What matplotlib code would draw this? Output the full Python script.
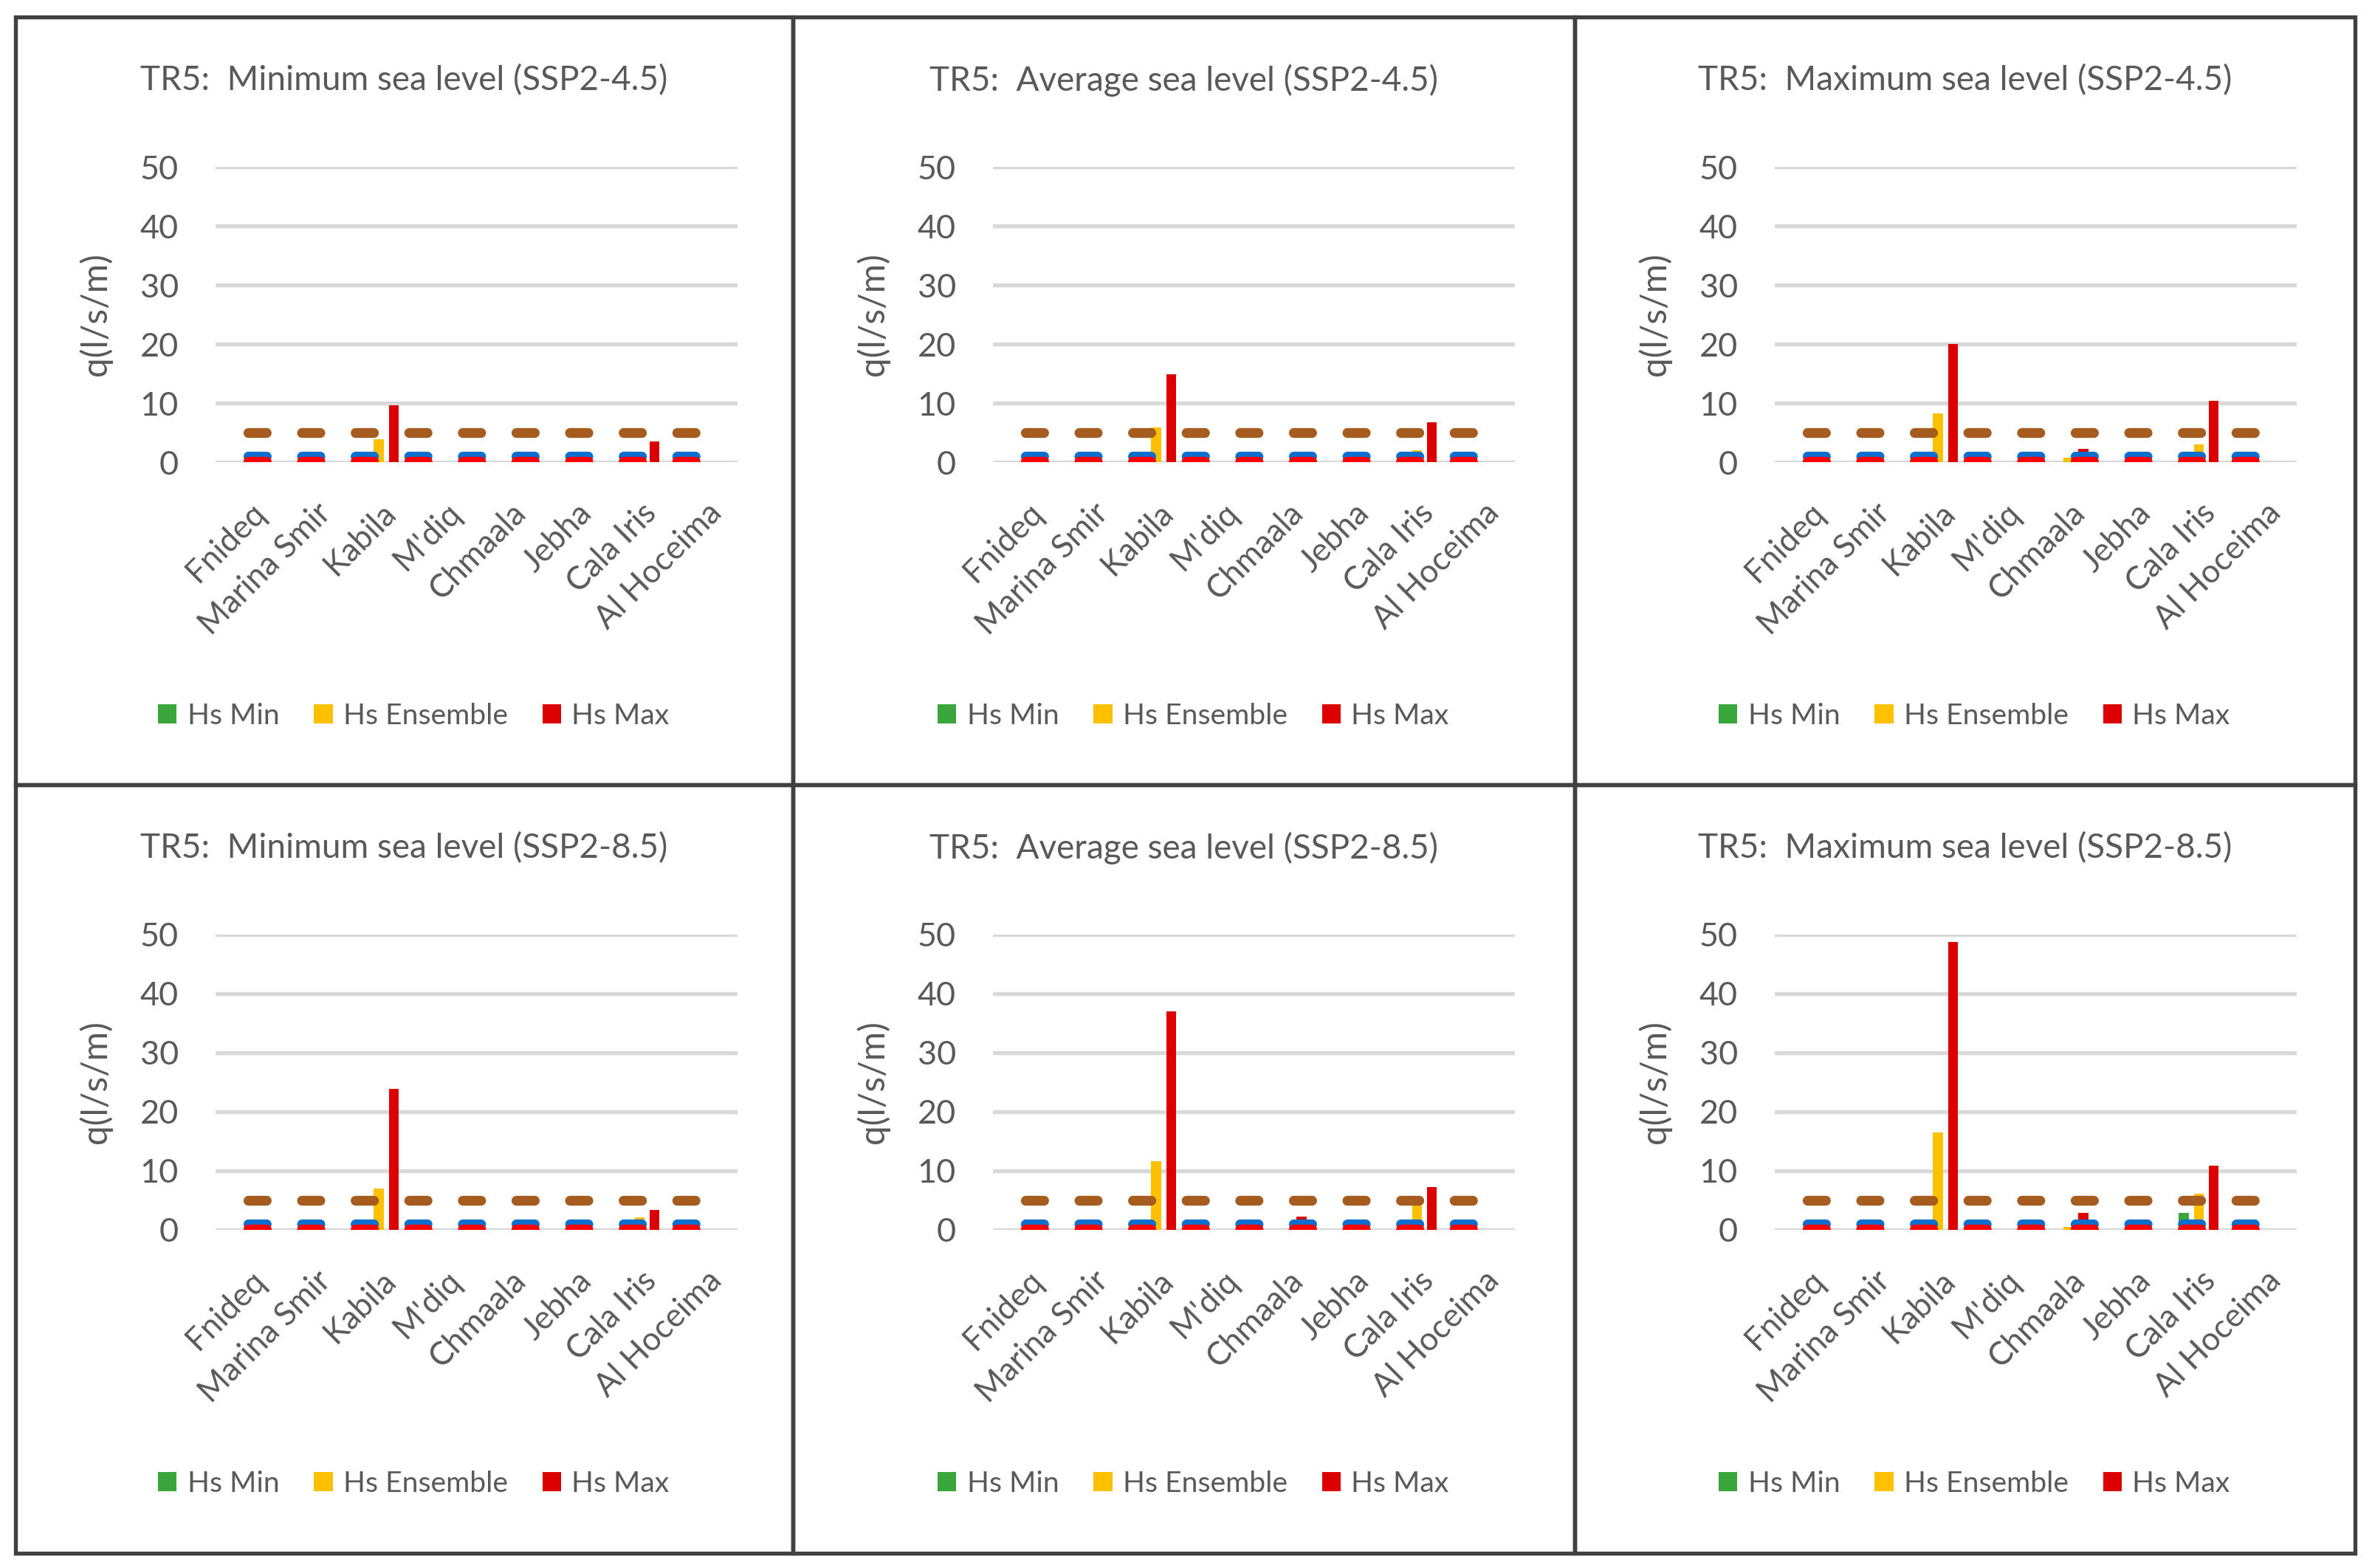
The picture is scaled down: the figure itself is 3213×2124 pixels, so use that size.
import matplotlib
matplotlib.use("Agg")
import matplotlib.pyplot as plt
from matplotlib.patches import Rectangle, Patch
from matplotlib.transforms import ScaledTranslation
import numpy as np

plt.rcParams["font.family"] = ["Lato", "DejaVu Sans"]
plt.rcParams["lines.scale_dashes"] = False

W, H, DPI = 3213, 2124, 300

categories = ["Fnideq", "Marina Smir", "Kabila", "M'diq", "Chmaala",
              "Jebha", "Cala Iris", "Al Hoceima"]

titles = [
    "TR5:  Minimum sea level (SSP2-4.5)",
    "TR5:  Average sea level (SSP2-4.5)",
    "TR5:  Maximum sea level (SSP2-4.5)",
    "TR5:  Minimum sea level (SSP2-8.5)",
    "TR5:  Average sea level (SSP2-8.5)",
    "TR5:  Maximum sea level (SSP2-8.5)",
]

# one list of 8 values per panel, same order as titles
hs_min = [
    [0, 0, 0, 0, 0, 0, 0, 0],
    [0, 0, 0, 0, 0, 0, 0, 0],
    [0, 0, 0, 0, 0, 0, 0, 0],
    [0, 0, 0, 0, 0, 0, 0, 0],
    [0, 0, 0, 0, 0, 0, 0, 0],
    [0, 0, 0, 0, 0, 0, 2.9, 0],
]
hs_ens = [
    [0, 0, 3.9, 0, 0, 0, 0, 0],
    [0, 0, 5.9, 0, 0, 0, 2.0, 0],
    [0, 0, 8.2, 0, 0.8, 0, 3.0, 0],
    [0, 0, 7.0, 0, 0, 0, 2.1, 0],
    [0, 0, 11.6, 0, 0, 0, 5.5, 0],
    [0, 0, 16.5, 0, 0.5, 0, 6.1, 0],
]
hs_max = [
    [0, 0, 9.6, 0, 0, 0, 3.5, 0],
    [0, 0, 14.9, 0, 0, 0, 6.8, 0],
    [0, 0, 20.0, 0, 2.2, 0, 10.4, 0],
    [0, 0, 23.9, 0, 0, 0, 3.4, 0],
    [0, 0, 37.0, 0, 2.2, 0, 7.3, 0],
    [0, 0, 48.7, 0, 2.9, 0, 10.85, 0],
]

series_names = ["Hs Min", "Hs Ensemble", "Hs Max"]
series_colors = ["#3AA53A", "#FFC000", "#DC0000"]

# overtopping limits drawn as dashed lines (l/s/m)
limits = [5, 1, 0.1]
limit_colors = ["#A65B1F", "#0F6FCF", "#FF0000"]

yticks = [0, 10, 20, 30, 40, 50]

TXT = "#595959"
GRID = "#D9D9D9"

# table cell edges in pixels
col_edges = [21, 1074, 2133, 3190]
row_edges = [23, 1063, 2104]

fig = plt.figure(figsize=(W / DPI, H / DPI), dpi=DPI)
fig.patch.set_facecolor("white")

x = np.arange(len(categories))
bar_w = 0.15
offsets = [-0.23, 0.0, 0.23]
lw_lim = 3.2  # points

for k in range(6):
    r, c = divmod(k, 3)
    cl, cr = col_edges[c], col_edges[c + 1]
    ct, cb = row_edges[r], row_edges[r + 1]
    cw = cr - cl

    left, right = cl + 271, cl + 978
    top, bottom = ct + 203, ct + 603
    ax = fig.add_axes([left / W, 1 - bottom / H, (right - left) / W, (bottom - top) / H])

    for vals, off, col, name in zip([hs_min[k], hs_ens[k], hs_max[k]], offsets,
                                    series_colors, series_names):
        ax.bar(x + off, vals, width=bar_w, color=col, linewidth=0, zorder=2, label=name)

    # dash pattern: 9 dashes over the line from first to last category
    line_px = (right - left) * 7 / 8
    period = line_px / 8.52 * 72 / DPI
    on = period * 0.525 - lw_lim
    off_ = period - on
    for val, col in zip(limits, limit_colors):
        ax.plot(x, [val] * len(x), color=col, lw=lw_lim, dashes=(on, off_),
                solid_capstyle="round", dash_capstyle="round", zorder=3)

    ax.set_xlim(-0.5, len(categories) - 0.5)
    ax.set_ylim(0, 50)
    ax.set_yticks(yticks)
    ax.yaxis.grid(True, color=GRID, lw=1.3, zorder=0)
    ax.set_axisbelow(True)
    for s in ax.spines.values():
        s.set_visible(False)
    ax.tick_params(length=0, labelsize=10.8, labelcolor=TXT, pad=12)
    ax.set_xticks(x)
    ax.set_xticklabels(categories, rotation=45, ha="right", va="center",
                       rotation_mode="anchor", fontsize=10.5, color=TXT)
    ax.tick_params(axis="x", pad=15)
    shift = ScaledTranslation(4 / 72, 0, fig.dpi_scale_trans)
    for lab in ax.get_xticklabels():
        lab.set_transform(lab.get_transform() + shift)
    ax.set_ylabel("q(l/s/m)", fontsize=11.5, color=TXT, labelpad=9)

    fig.text((cl + cr) / 2 / W, 1 - (ct + 86) / H, titles[k], ha="center", va="center",
             fontsize=11, color=TXT)

    handles = [Patch(facecolor=col, edgecolor="none") for col in series_colors]
    fig.legend(handles, series_names, loc="center",
               bbox_to_anchor=((cl + cr) / 2 / W + 0.004, 1 - (ct + 947) / H),
               ncol=3, frameon=False, fontsize=9.4, labelcolor=TXT,
               handlelength=0.65, handleheight=0.65, handletextpad=0.36,
               columnspacing=1.2)

    fig.add_artist(Rectangle((cl / W, 1 - cb / H), cw / W, (cb - ct) / H,
                             transform=fig.transFigure, fill=False,
                             edgecolor="#404040", lw=1.3))

fig.savefig("out.png", dpi=DPI, facecolor="white")
